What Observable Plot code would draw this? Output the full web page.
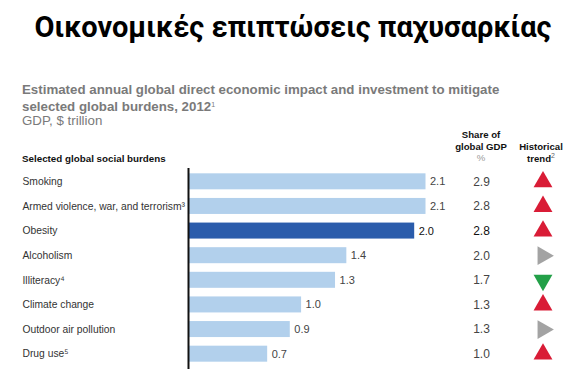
<!DOCTYPE html>
<html>
<head>
<meta charset="utf-8">
<script src="https://cdn.jsdelivr.net/npm/d3@7"></script>
<script src="https://cdn.jsdelivr.net/npm/@observablehq/plot@0.6"></script>
<style>
  html, body { margin: 0; padding: 0; background: #fff; }
  #wrap { width: 586px; height: 391px; position: relative; overflow: hidden; font-family: "Liberation Sans", Arial, sans-serif; }
  #head { position: relative; width: 586px; height: 165px; }
  #head div { position: absolute; white-space: nowrap; }
  .title { left: 0; width: 586px; text-align: center; top: 9px; font-family: Roboto, "Noto Sans", sans-serif; font-weight: 700; font-size: 29px; line-height: 36px; color: #000; }
  .sub { left: 22px; font-weight: 700; font-size: 13.3px; line-height: 17px; color: #7a7a7a; }
  .unit { left: 22px; font-size: 13.3px; line-height: 16px; color: #7a7a7a; }
  .colh { font-weight: 700; font-size: 9.6px; line-height: 11.5px; color: #111; text-align: center; }
  sup { font-size: 7px; line-height: 0; vertical-align: 4px; font-weight: 400; }
</style>
</head>
<body>
<div id="wrap">
  <div id="head">
    <div class="title">Οικονομικές επιπτώσεις παχυσαρκίας</div>
    <div class="sub" style="top:81px">Estimated annual global direct economic impact and investment to mitigate<br>selected global burdens, 2012<sup>1</sup></div>
    <div class="unit" style="top:113px">GDP, $ trillion</div>
    <div class="colh" style="left:451px; width:60px; top:129px">Share of<br>global GDP<br><span style="font-weight:400;color:#999">%</span></div>
    <div class="colh" style="left:511px; width:60px; top:141px">Historical<br>trend<sup style="color:#666">2</sup></div>
    <div class="colh" style="left:22px; top:153px; text-align:left; font-size:9.8px">Selected global social burdens</div>
  </div>
  <div id="chart"></div>
</div>
<script>
const burdens = ["Smoking", "Armed violence, war, and terrorism³", "Obesity", "Alcoholism", "Illiteracy⁴", "Climate change", "Outdoor air pollution", "Drug use⁵"];
const impact = [2.1, 2.1, 2.0, 1.4, 1.3, 1.0, 0.9, 0.7];
const share = [2.9, 2.8, 2.8, 2.0, 1.7, 1.3, 1.3, 1.0];
const trend = ["up", "up", "up", "flat", "down", "up", "flat", "up"];
const highlight = "Obesity";

const rows = burdens.map((b, i) => ({burden: b, impact: impact[i], share: share[i], trend: trend[i], hi: b === highlight}));
const trendColor = {up: "#d91c36", flat: "#a3a3a3", down: "#23a048"};
const trendRotate = {up: 0, flat: 90, down: 180};

const chart = Plot.plot({
  width: 586,
  height: 226,
  marginTop: 3,
  marginBottom: 22,
  marginLeft: 188,
  marginRight: 160.5,
  style: {fontFamily: "Liberation Sans, Arial, sans-serif", background: "#fff"},
  x: {domain: [0, d3.max(impact)], axis: null},
  y: {domain: burdens, range: [-0.3, 205.3], padding: 0.35, round: false, axis: null},
  marks: [
    Plot.barX(rows, {y: "burden", x: "impact", fill: d => d.hi ? "#2b5cab" : "#b2d0ec"}),
    Plot.ruleX([0], {stroke: "#111", strokeWidth: 2}),
    Plot.text(rows, {y: "burden", text: "burden", frameAnchor: "left", textAnchor: "start", dx: -166, fontSize: 10.3, fill: "#333"}),
    Plot.text(rows, {y: "burden", x: "impact", text: d => d.impact.toFixed(1), textAnchor: "start", dx: 4, fontSize: 11, fill: d => d.hi ? "#111" : "#444", fontWeight: d => d.hi ? "bold" : "normal"}),
    Plot.text(rows, {y: "burden", text: d => d.share.toFixed(1), frameAnchor: "right", textAnchor: "middle", dx: 55.5, fontSize: 12, fill: d => d.hi ? "#111" : "#444", fontWeight: d => d.hi ? "bold" : "normal"}),
    Plot.dot(rows, {y: "burden", frameAnchor: "right", dx: 117, symbol: "triangle", r: 7, fill: d => trendColor[d.trend], rotate: d => trendRotate[d.trend], stroke: null})
  ]
});
document.getElementById("chart").appendChild(chart);
</script>
</body>
</html>
